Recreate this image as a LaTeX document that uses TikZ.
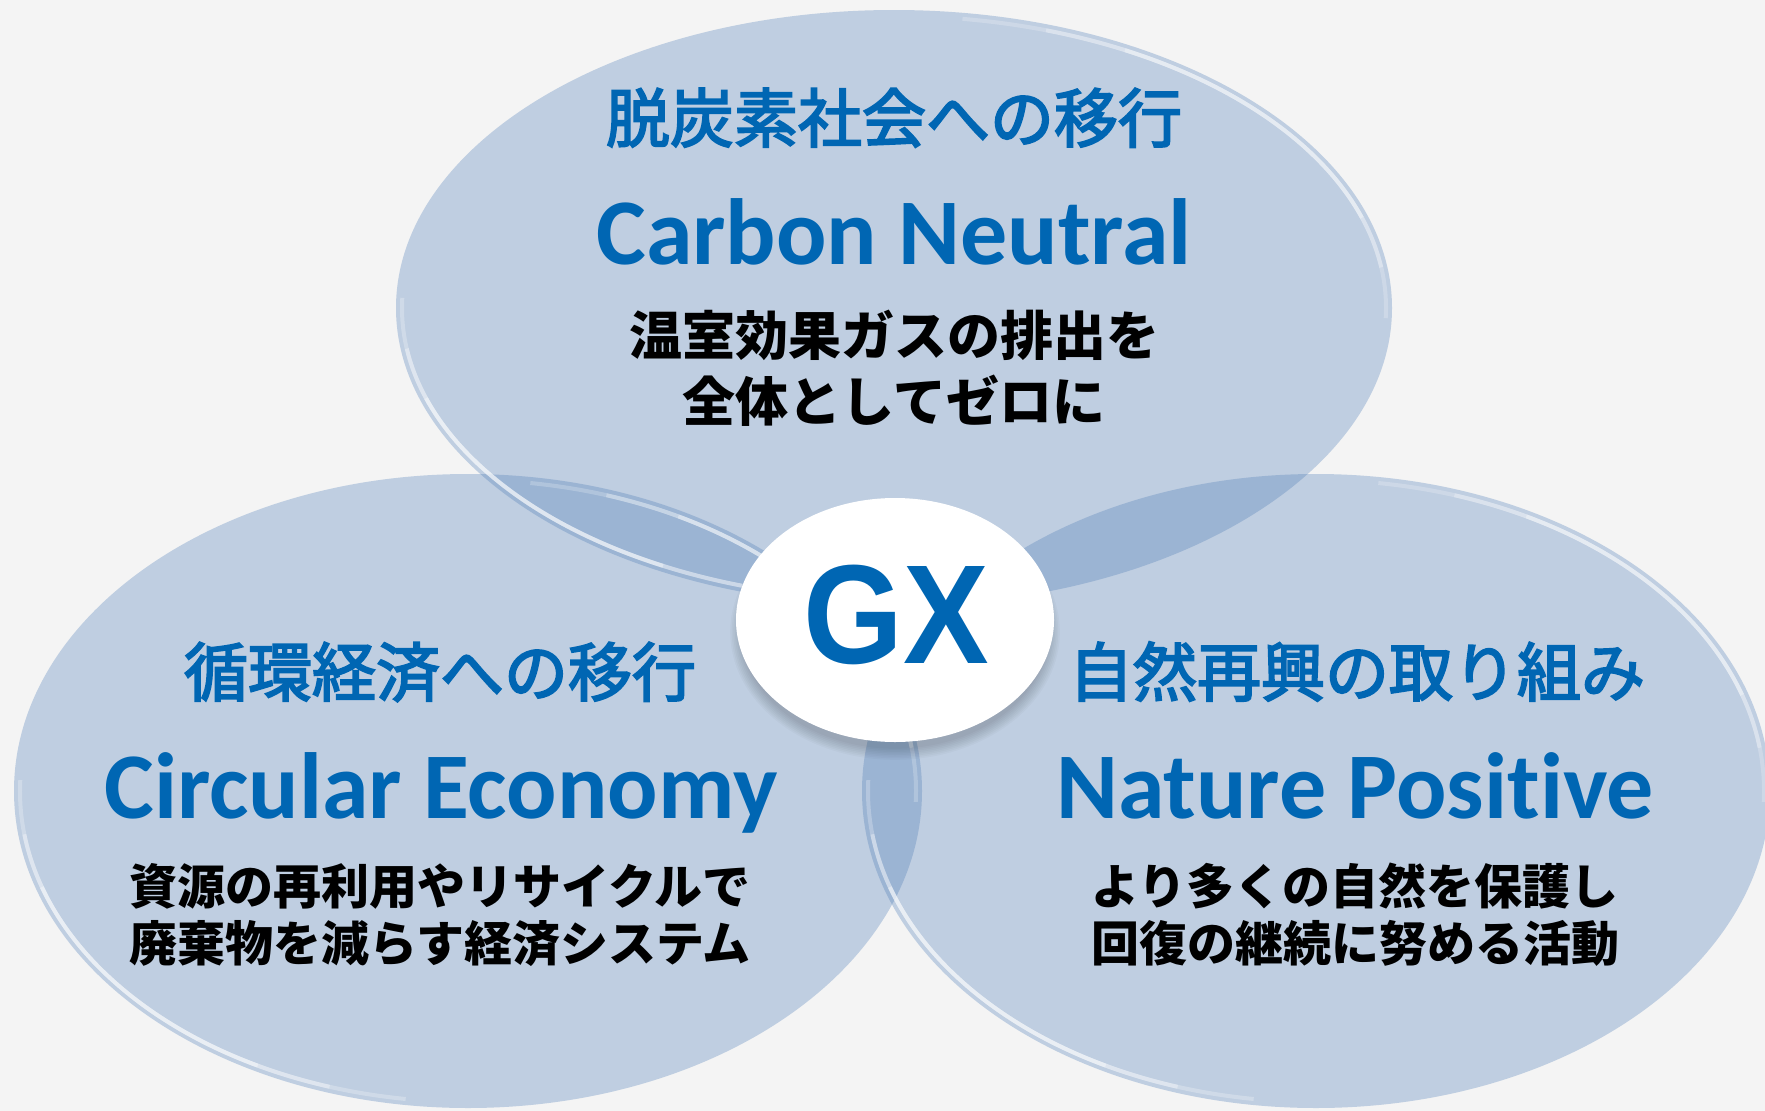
\documentclass[tikz,border=0pt]{standalone}
\usepackage{fontspec}
\usepackage{graphicx}
\setmainfont{Carlito}[Ligatures=CommonOff]
\newfontfamily\jp{Noto Sans CJK JP}
\newfontfamily\jpm{Noto Sans CJK JP}[FakeBold=3]
\newfontfamily\gxfont{Liberation Sans}
\definecolor{bgc}{HTML}{F4F4F4}
\definecolor{single}{HTML}{BFCEE1}
\definecolor{dbl}{HTML}{9BB4D3}
\definecolor{ttl}{HTML}{0066B3}
\newcommand\rimarcs[4]{%
  \foreach \a/\b/\o in {-82/2/0.22,-72/-8/0.28,-62/-18/0.32}{%
    \draw[white,line width=4,opacity=\o] (#1,#2) ++(\a:{#3-6} and {#4-6}) arc[start angle=\a,end angle=\b,x radius=#3-6,y radius=#4-6];}%
  \foreach \a/\b/\o in {98/182/0.25,108/172/0.32,118/162/0.36}{%
    \draw[white,line width=4,opacity=\o] (#1,#2) ++(\a:{#3-6} and {#4-6}) arc[start angle=\a,end angle=\b,x radius=#3-6,y radius=#4-6];}%
}
\tikzset{
  jphead/.style={anchor=base,inner sep=0pt,text=ttl,font=\jpm\fontsize{64}{64}\selectfont},
  enhead/.style={anchor=base,inner sep=0pt,text=ttl,font=\bfseries\fontsize{94}{94}\selectfont},
  jpbody/.style={anchor=base,inner sep=0pt,text=black,font=\jp\bfseries\fontsize{53}{53}\selectfont},
  jpbodys/.style={anchor=base,inner sep=0pt,text=black,font=\jp\bfseries\fontsize{48}{48}\selectfont},
}
\begin{document}
\begin{tikzpicture}[x=1pt,y=-1pt]
\fill[bgc] (0,0) rectangle (1765,1111);
\useasboundingbox (0,0) rectangle (1765,1111);
% circles
\fill[single] (894,308) ellipse[x radius=498,y radius=298];
\fill[single] (468,791) ellipse[x radius=454,y radius=317];
\fill[single] (1316,791) ellipse[x radius=454,y radius=317];
% overlaps
\begin{scope}
  \clip (894,308) ellipse[x radius=498,y radius=298];
  \fill[dbl] (468,791) ellipse[x radius=454,y radius=317];
  \fill[dbl] (1316,791) ellipse[x radius=454,y radius=317];
\end{scope}
\begin{scope}
  \clip (468,791) ellipse[x radius=454,y radius=317];
  \fill[dbl] (1316,791) ellipse[x radius=454,y radius=317];
\end{scope}
% glossy rims
\rimarcs{894}{308}{498}{298}
\rimarcs{468}{791}{454}{317}
\rimarcs{1316}{791}{454}{317}
% GX centre
\foreach \i in {1,...,8}
  \fill[black,opacity=0.025] (895,632) ellipse[x radius=152+\i*1.6,y radius=115+\i*1.6];
\fill[white] (895,620) ellipse[x radius=159,y radius=122];
\node[anchor=base,inner sep=0pt,text=ttl,font=\gxfont\bfseries\fontsize{141}{141}\selectfont] (gx) at (896,663) {\scalebox{0.91}[1]{GX}};
% top
\node[jphead] (th) at (894,142) {脱炭素社会への移行};
\node[enhead] (te) at (894,264) {Carbon Neutral};
\node[jpbody] (tb1) at (894,355) {温室効果ガスの排出を};
\node[jpbody] (tb2) at (894,421) {全体としてゼロに};
% left
\node[jphead] (lh) at (440,696) {循環経済への移行};
\node[enhead] (le) at (441,818) {Circular Economy};
\node[jpbodys] (lb1) at (440,904) {資源の再利用やリサイクルで};
\node[jpbodys] (lb2) at (440,961) {廃棄物を減らす経済システム};
% right
\node[jphead] (rh) at (1357,696) {自然再興の取り組み};
\node[enhead] (re) at (1355,818) {Nature Positive};
\node[jpbodys] (rb1) at (1355,904) {より多くの自然を保護し};
\node[jpbodys] (rb2) at (1355,961) {回復の継続に努める活動};
\end{tikzpicture}
\end{document}
